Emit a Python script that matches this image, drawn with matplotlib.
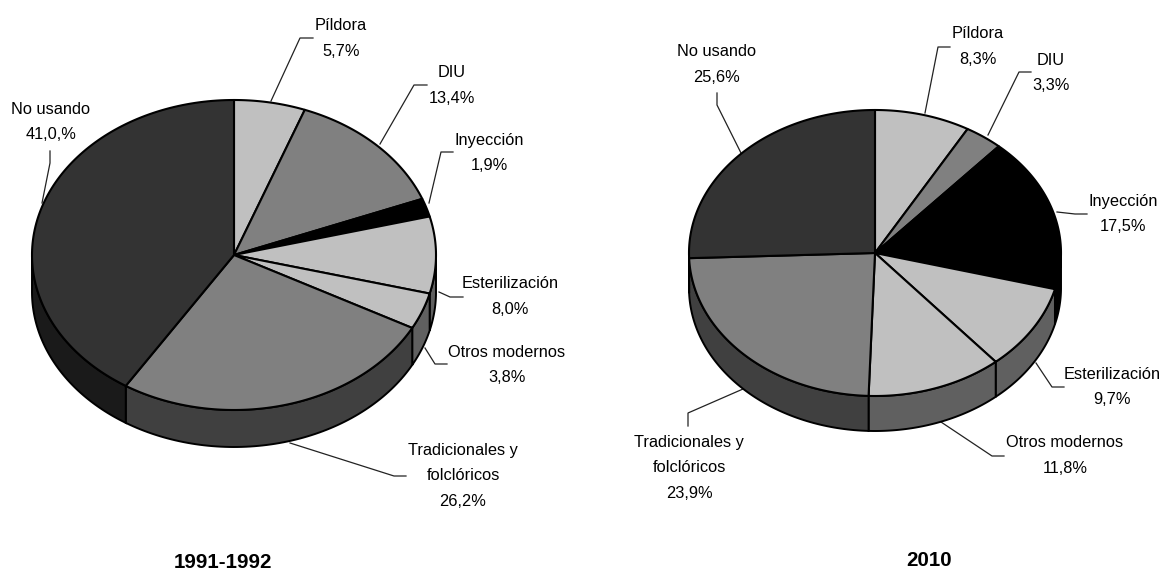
import numpy as np
import matplotlib
matplotlib.use('Agg')
import matplotlib.pyplot as plt

plt.rcParams['font.family'] = ['Liberation Sans', 'DejaVu Sans']

W, H = 1161, 571

labels = ['Píldora', 'DIU', 'Inyección', 'Esterilización', 'Otros modernos',
          'Tradicionales y\nfolclóricos', 'No usando']
values_1991 = [5.7, 13.4, 1.9, 8.0, 3.8, 26.2, 41.0]
values_2010 = [8.3, 3.3, 17.5, 9.7, 11.8, 23.9, 25.6]
top_colors = ['#c0c0c0', '#808080', '#000000', '#c0c0c0', '#c0c0c0', '#808080', '#333333']
side_colors = ['#606060', '#404040', '#000000', '#606060', '#606060', '#404040', '#1a1a1a']
pct_labels_1991 = ['5,7%', '13,4%', '1,9%', '8,0%', '3,8%', '26,2%', '41,0,%']
pct_labels_2010 = ['8,3%', '3,3%', '17,5%', '9,7%', '11,8%', '23,9%', '25,6%']

# centro de cada etiqueta y linea guia
label_pos_1991 = [(341, 38.5), (452, 85.5), (489, 153), (510, 296.5), (507, 365), (463, 476), (51, 122)]
label_pos_2010 = [(978, 46.5), (1051, 73), (1123, 214), (1112, 387), (1065, 455.5), (689, 468), (717, 64.5)]
leaders_1991 = [[(271, 101), (300, 38), (313, 38)], [(380, 144), (414, 85), (427, 85)],
                [(429, 203), (441, 152), (453, 152)], [(439, 292), (450, 297), (463, 297)],
                [(425, 348), (435, 364), (447, 364)], [(290, 443), (394, 476), (406, 476)],
                [(42, 203), (50, 163), (50, 151)]]
leaders_2010 = [[(925, 113), (938, 47), (950, 47)], [(988, 135), (1019, 72), (1031, 72)],
                [(1057, 212), (1075, 214), (1087, 214)], [(1036, 363), (1052, 387), (1064, 387)],
                [(941, 422), (992, 456), (1004, 456)], [(743, 389), (688, 413), (688, 426)],
                [(741, 153), (717, 105), (717, 93)]]

fig = plt.figure(figsize=(W / 100, H / 100), dpi=100)
ax = fig.add_axes([0, 0, 1, 1])
ax.set_xlim(0, W)
ax.set_ylim(H, 0)
ax.axis('off')


def draw_pie(values, cx, cy, rx, ry, depth):
    edges = np.cumsum([0] + list(values)) / sum(values) * 2 * np.pi
    # paredes exteriores (solo la mitad de abajo se ve)
    for i in range(len(values)):
        a0, a1 = max(edges[i], np.pi / 2), min(edges[i + 1], 3 * np.pi / 2)
        if a1 <= a0:
            continue
        t = np.linspace(a0, a1, 80)
        x = cx + rx * np.sin(t)
        y = cy - ry * np.cos(t)
        ax.fill(np.r_[x, x[::-1]], np.r_[y, y[::-1] + depth],
                fc=side_colors[i], ec='black', lw=1.4, zorder=2)
    # caras de arriba
    for i in range(len(values)):
        t = np.linspace(edges[i], edges[i + 1], 120)
        x = np.r_[cx, cx + rx * np.sin(t)]
        y = np.r_[cy, cy - ry * np.cos(t)]
        ax.fill(x, y, fc=top_colors[i], ec='black', lw=1.5, zorder=3, joinstyle='round')


def draw_labels(pos, leaders, pct):
    for i, name in enumerate(labels):
        ax.text(pos[i][0], pos[i][1], name + '\n' + pct[i], ha='center', va='center',
                fontsize=11.8, linespacing=1.84, color='black', zorder=5)
        xs, ys = zip(*leaders[i])
        ax.plot(xs, ys, color='#222222', lw=0.9, zorder=1)


draw_pie(values_1991, 234, 255, 202, 155, 37)
draw_pie(values_2010, 875, 253, 186, 143, 35)
draw_labels(label_pos_1991, leaders_1991, pct_labels_1991)
draw_labels(label_pos_2010, leaders_2010, pct_labels_2010)

ax.text(223, 562, '1991-1992', ha='center', va='center', fontsize=14.8, fontweight='bold')
ax.text(929, 560, '2010', ha='center', va='center', fontsize=14.8, fontweight='bold')

fig.savefig('out.png', dpi=100)
